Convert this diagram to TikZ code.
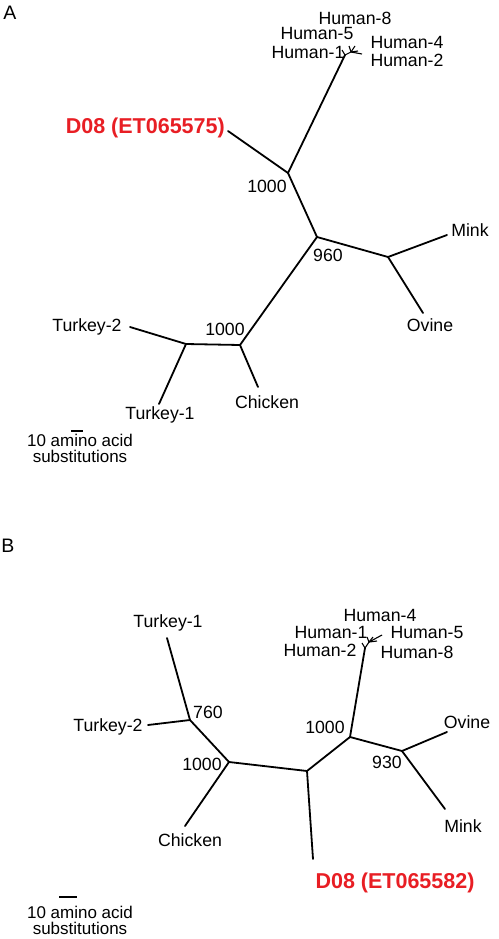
\documentclass[tikz,border=0pt]{standalone}
\usepackage{fontspec}
\setmainfont{Liberation Sans}
\usepackage{tikz}
\usetikzlibrary{positioning}
\definecolor{strainred}{RGB}{232,30,36}

\begin{document}
\begin{tikzpicture}[x=1pt, y=-1pt,
    branch/.style={line width=1.8pt, line cap=round, line join=round},
    twig/.style={line width=1.1pt},
    leaf/.style={inner sep=0pt, font=\fontsize{17.7}{20}\selectfont},
    boot/.style={inner sep=0pt, font=\fontsize{17.7}{20}\selectfont},
    strain/.style={inner sep=0pt, text=strainred, font=\fontsize{21.5}{24}\selectfont\bfseries},
    panel/.style={inner sep=0pt, font=\fontsize{19.5}{22}\selectfont},
    scaletext/.style={inner sep=0pt, font=\fontsize{17}{19}\selectfont}]
    \useasboundingbox (0,0) rectangle (498,939);

    % panel A
    \node [panel] (labA) at (10,13) {A};
    \coordinate (a1) at (288,173);
    \coordinate (a2) at (317,237);
    \coordinate (a3) at (388,257);
    \coordinate (a4) at (240,345);
    \coordinate (a5) at (186,344);
    \coordinate (ah0) at (345,55);
    \coordinate (ah1) at (351,52);
    \coordinate (tA-d08) at (228,131);
    \coordinate (tA-mink) at (447,235);
    \coordinate (tA-ovine) at (423,313);
    \coordinate (tA-chicken) at (258,387);
    \coordinate (tA-turkey2) at (130,327);
    \coordinate (tA-turkey1) at (159,404);
    \coordinate (tA-h1) at (342,50);
    \coordinate (tA-h5) at (349,46);
    \coordinate (tA-h8) at (355,46);
    \coordinate (tA-h4) at (358,51);
    \coordinate (tA-h2) at (362,54);

    \draw [branch] (a1) -- (tA-d08);
    \draw [branch] (a1) -- (ah0);
    \draw [branch] (a1) -- (a2);
    \draw [branch] (a2) -- (a3);
    \draw [branch] (a3) -- (tA-mink);
    \draw [branch] (a3) -- (tA-ovine);
    \draw [branch] (a2) -- (a4);
    \draw [branch] (a4) -- (tA-chicken);
    \draw [branch] (a4) -- (a5);
    \draw [branch] (a5) -- (tA-turkey2);
    \draw [branch] (a5) -- (tA-turkey1);
    \draw [twig] (ah0) -- (tA-h1);
    \draw [twig] (ah0) -- (ah1);
    \draw [twig] (ah1) -- (tA-h5);
    \draw [twig] (ah1) -- (tA-h8);
    \draw [twig] (ah1) -- (tA-h4);
    \draw [twig] (ah1) -- (tA-h2);

    \node [leaf] (nA-h8) at (355,18) {Human-8};
    \node [leaf] (nA-h5) at (317,33) {Human-5};
    \node [leaf] (nA-h1) at (308,52) {Human-1};
    \node [leaf] (nA-h4) at (407,42) {Human-4};
    \node [leaf] (nA-h2) at (407,60) {Human-2};
    \node [strain, anchor=east] (nA-d08) at (225,128) {D08 (ET065575)};
    \node [boot] (bA1) at (267,186) {1000};
    \node [boot] (bA2) at (328,255) {960};
    \node [boot] (bA4) at (225,329) {1000};
    \node [leaf] (nA-mink) at (470,230) {Mink};
    \node [leaf] (nA-ovine) at (430,325) {Ovine};
    \node [leaf] (nA-chicken) at (267,402) {Chicken};
    \node [leaf] (nA-turkey2) at (87,327) {Turkey-2};
    \node [leaf] (nA-turkey1) at (160,415) {Turkey-1};

    \coordinate (barA1) at (71,431);
    \coordinate (barA2) at (83,431);
    \draw [line width=1.5pt] (barA1) -- (barA2);
    \node [scaletext] (scA1) at (80,440) {10 amino acid};
    \node [scaletext, below=4pt of scA1.south, anchor=north] (scA2) {substitutions};

    % panel B
    \node [panel] (labB) at (8,546) {B};
    \coordinate (b1) at (190,720);
    \coordinate (b2) at (229,762);
    \coordinate (b3) at (307,771);
    \coordinate (b4) at (350,737);
    \coordinate (b5) at (402,751);
    \coordinate (bh0) at (365,648);
    \coordinate (bh1) at (369,642);
    \coordinate (tB-turkey1) at (167,638);
    \coordinate (tB-turkey2) at (148,725);
    \coordinate (tB-chicken) at (185,826);
    \coordinate (tB-d08) at (313,859);
    \coordinate (tB-ovine) at (447,732);
    \coordinate (tB-mink) at (445,809);
    \coordinate (tB-h2) at (362,643);
    \coordinate (tB-h1) at (367,637);
    \coordinate (tB-h4) at (373,637);
    \coordinate (tB-h5) at (382,635);
    \coordinate (tB-h8) at (377,641);

    \draw [branch] (b1) -- (tB-turkey1);
    \draw [branch] (b1) -- (tB-turkey2);
    \draw [branch] (b1) -- (b2);
    \draw [branch] (b2) -- (tB-chicken);
    \draw [branch] (b2) -- (b3);
    \draw [branch] (b3) -- (tB-d08);
    \draw [branch] (b3) -- (b4);
    \draw [branch] (b4) -- (bh0);
    \draw [branch] (b4) -- (b5);
    \draw [branch] (b5) -- (tB-ovine);
    \draw [branch] (b5) -- (tB-mink);
    \draw [twig] (bh0) -- (tB-h2);
    \draw [twig] (bh0) -- (bh1);
    \draw [twig] (bh1) -- (tB-h1);
    \draw [twig] (bh1) -- (tB-h4);
    \draw [twig] (bh1) -- (tB-h5);
    \draw [twig] (bh1) -- (tB-h8);

    \node [leaf] (nB-turkey1) at (168,623) {Turkey-1};
    \node [leaf] (nB-turkey2) at (108,727) {Turkey-2};
    \node [boot] (bB1) at (208,712) {760};
    \node [boot] (bB2) at (202,764) {1000};
    \node [leaf] (nB-chicken) at (190,840) {Chicken};
    \node [strain] (nB-d08) at (395,883) {D08 (ET065582)};
    \node [boot] (bB4) at (325,727) {1000};
    \node [boot] (bB5) at (387,762) {930};
    \node [leaf] (nB-ovine) at (467,722) {Ovine};
    \node [leaf] (nB-mink) at (463,826) {Mink};
    \node [leaf] (nB-h4) at (380,615) {Human-4};
    \node [leaf] (nB-h1) at (331,632) {Human-1};
    \node [leaf] (nB-h2) at (320,650) {Human-2};
    \node [leaf] (nB-h5) at (427,632) {Human-5};
    \node [leaf] (nB-h8) at (417,652) {Human-8};

    \coordinate (barB1) at (59,897);
    \coordinate (barB2) at (77,897);
    \draw [line width=1.5pt] (barB1) -- (barB2);
    \node [scaletext] (scB1) at (80,912) {10 amino acid};
    \node [scaletext, below=4pt of scB1.south, anchor=north] (scB2) {substitutions};
\end{tikzpicture}
\end{document}
